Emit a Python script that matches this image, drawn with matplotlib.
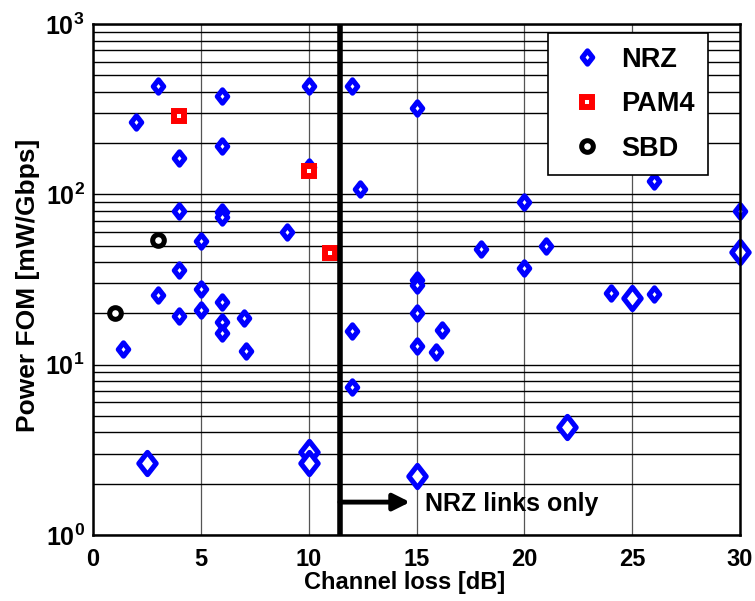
import matplotlib
matplotlib.use('Agg')
import matplotlib.pyplot as plt
import numpy as np
from matplotlib.path import Path
from matplotlib.markers import MarkerStyle
from matplotlib.ticker import FuncFormatter, LogLocator

plt.rcParams['font.family'] = ['Liberation Sans', 'DejaVu Sans']
plt.rcParams['font.weight'] = 'bold'
plt.rcParams['mathtext.fontset'] = 'custom'
plt.rcParams['mathtext.rm'] = 'Liberation Sans:bold'
plt.rcParams['mathtext.bf'] = 'Liberation Sans:bold'

# NRZ links (regular markers)
nrz_loss = [1.4, 2, 3, 3, 4, 4, 4, 4, 5, 5, 5, 6, 6, 6, 6, 6, 6, 6, 7, 7.1, 9,
            10, 10, 12, 12.4, 12, 12, 15, 15, 15, 15, 15, 16.2, 15.9, 18, 20,
            20, 21, 24, 26, 26, 30]
nrz_fom = [12.4, 265, 430, 25.5, 163, 80, 36, 19.2, 53.5, 28, 20.8, 377, 192,
           79, 74, 23.2, 17.9, 15.4, 18.7, 12, 60, 430, 144, 430, 108, 15.8,
           7.4, 320, 31.6, 29.5, 20, 12.9, 16, 11.8, 48, 90, 37, 49.5, 26.5,
           26, 119, 80]

# NRZ links (large markers)
nrz_big_loss = [2.5, 10, 10, 15, 22, 25, 30]
nrz_big_fom = [2.65, 3.08, 2.65, 2.22, 4.3, 24.5, 46]

pam4_loss = [4, 10, 11]
pam4_fom = [287, 137, 45]

sbd_loss = [1, 3]
sbd_fom = [20, 54]

nrz_only_from = 11.45

# thin diamond marker
diamond = MarkerStyle(Path([(0, 1), (0.78, 0), (0, -1), (-0.78, 0), (0, 1)],
                           [Path.MOVETO, Path.LINETO, Path.LINETO, Path.LINETO, Path.CLOSEPOLY]),
                      joinstyle='miter')

fig = plt.figure(figsize=(7.55, 6.01), dpi=100)
ax = fig.add_axes([93/755, 1-535/601, 647/755, 511/601])

ax.set_xlim(0, 30)
ax.set_yscale('log')
ax.set_ylim(1, 1000)

# grid: black horizontal lines at every log step, grey verticals
ax.yaxis.set_minor_locator(LogLocator(base=10, subs=np.arange(2, 10)))
ax.grid(True, axis='y', which='both', color='black', lw=1.0)
ax.grid(True, axis='x', which='major', color='#555555', lw=0.9)
ax.set_axisbelow(True)

ax.plot(nrz_loss, nrz_fom, ls='none', marker=diamond, ms=9.6, mew=3.7,
        mec='#0000ff', mfc='white', label='NRZ', zorder=3, clip_on=False)
ax.plot(nrz_big_loss, nrz_big_fom, ls='none', marker=diamond, ms=16, mew=3.7,
        mec='#0000ff', mfc='white', zorder=3, clip_on=False)
ax.plot(pam4_loss, pam4_fom, ls='none', marker='s', ms=6.5, mew=4.3,
        mec='#ff0000', mfc='white', label='PAM4', zorder=3, clip_on=False)
ax.plot(sbd_loss, sbd_fom, ls='none', marker='o', ms=8.4, mew=3.6,
        mec='black', mfc='white', label='SBD', zorder=3, clip_on=False)

ax.axvline(nrz_only_from, color='black', lw=4, zorder=4)
ax.annotate('', xy=(14.7, 1.56), xytext=(nrz_only_from, 1.56),
            arrowprops=dict(arrowstyle='-|>', lw=3.5, color='black',
                            mutation_scale=25, shrinkA=0, shrinkB=0), zorder=4)
ax.text(15.4, 1.52, 'NRZ links only', fontsize=18, fontweight='bold',
        va='center', ha='left')

ax.set_xticks([0, 5, 10, 15, 20, 25, 30])
ax.yaxis.set_major_formatter(FuncFormatter(lambda v, p: r'$\mathbf{10^{%d}}$' % round(np.log10(v))))
ax.tick_params(axis='x', which='both', direction='in', labelsize=17, pad=9, length=0)
ax.tick_params(axis='y', which='both', direction='in', labelsize=18, pad=6, length=0)

ax.set_xlabel('Channel loss [dB]', fontsize=17, fontweight='bold')
ax.set_ylabel('Power FOM [mW/Gbps]', fontsize=19, fontweight='bold')
ax.xaxis.set_label_coords(0.481, -0.07)
ax.yaxis.set_label_coords(-0.082, 0.489)

for s in ax.spines.values():
    s.set_linewidth(1.8)
    s.set_zorder(5)

leg = ax.legend(loc='upper right', bbox_to_anchor=(0.9505, 0.982), fontsize=19.5,
                frameon=True, fancybox=False, edgecolor='black', framealpha=1,
                borderpad=0.5, handlelength=1.88, handletextpad=0.3,
                labelspacing=0.68, borderaxespad=0)
leg.get_frame().set_linewidth(1.2)
leg.set_zorder(6)
for t in leg.get_texts():
    t.set_fontweight('bold')

fig.savefig('out.png', dpi=100)
